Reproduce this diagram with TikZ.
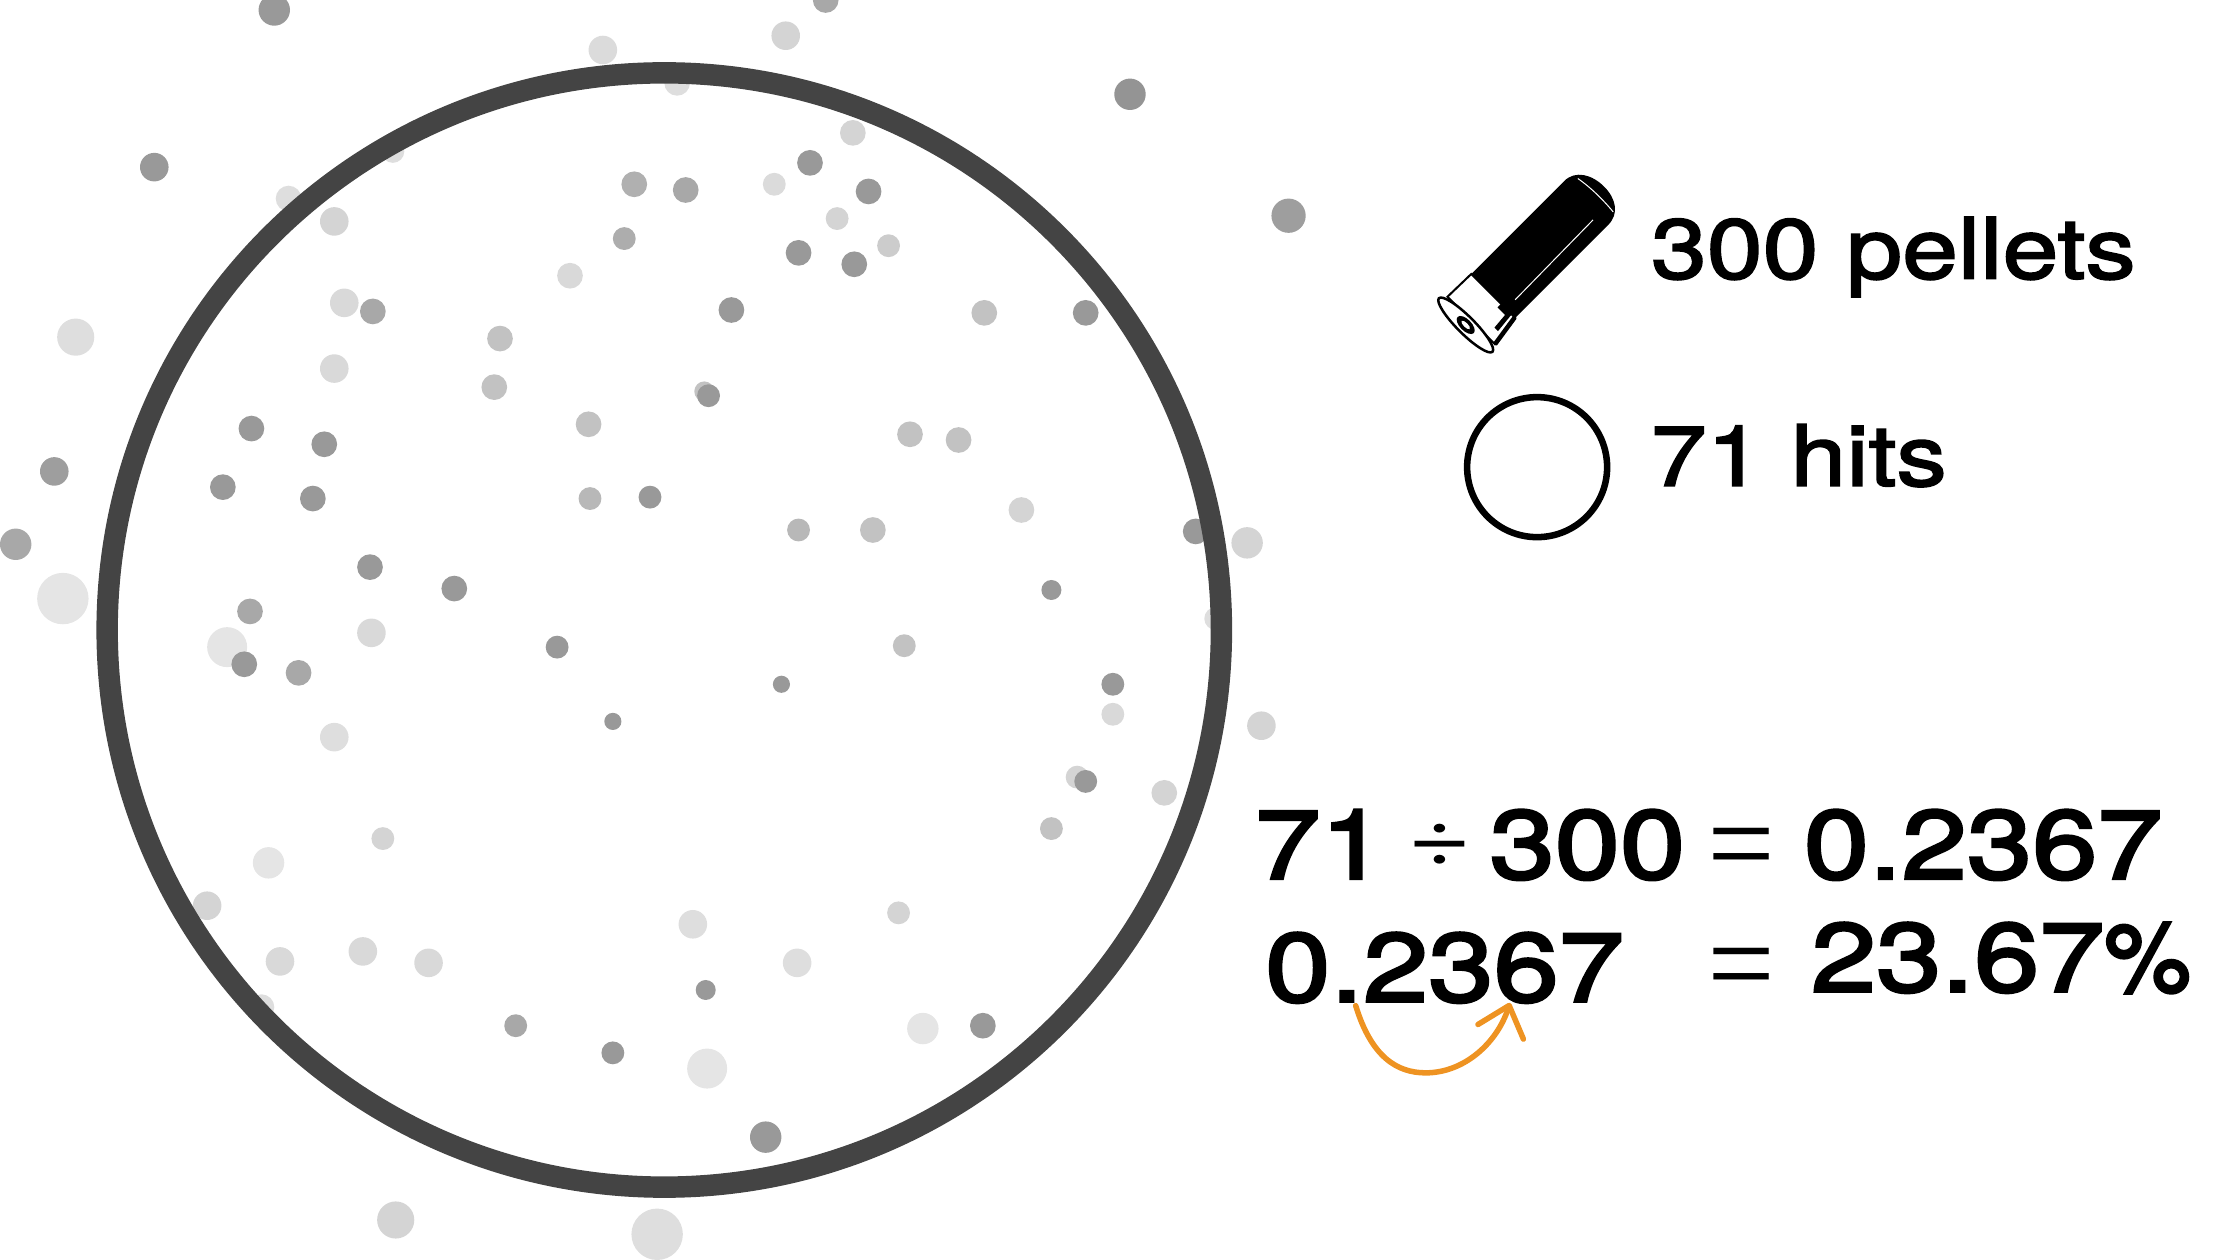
\documentclass[tikz,border=0pt]{standalone}
\usepackage{fontspec}
\usetikzlibrary{arrows.meta}
\setmainfont{TeX Gyre Heros}
\newfontfamily\labelfont[FakeStretch=1.19,FakeBold=2.2]{TeX Gyre Heros}
\newfontfamily\calcfont[FakeStretch=1.21,FakeBold=3]{TeX Gyre Heros}
\newfontfamily\pctfont[FakeStretch=1.0,FakeBold=3]{TeX Gyre Heros}
\newfontfamily\signfont[FakeStretch=0.55]{DejaVu Sans ExtraLight}
\newfontfamily\divfont[FakeStretch=1.3]{TeX Gyre Heros}
\definecolor{ringgray}{HTML}{444444}
\definecolor{hoporange}{HTML}{EE9322}
\tikzset{
    labeltext/.style={anchor=base west,inner sep=0pt,font=\labelfont\fontsize{16.8}{20}\selectfont},
    calctext/.style={anchor=base west,inner sep=0pt,font=\calcfont\fontsize{19.3}{23}\selectfont},
    signtext/.style={anchor=base,inner sep=0pt,text height=14pt,text depth=0pt,font=\signfont\fontsize{32}{36}\selectfont},
    divtext/.style={anchor=base,inner sep=0pt,font=\divfont\fontsize{17}{20}\selectfont},
}
\begin{document}
\begin{tikzpicture}[x=0.01cm,y=-0.01cm]
    \useasboundingbox(0,0)rectangle(1568,882);
    \clip(0,0)rectangle(1568,882);
    \foreach \px/\py/\pr/\pg in {
        192/7/11/40,422/35/10/14,550/25/10/17,578/0/9/34,791/66/11/42,108/117/10/40,
        202/139/9/13,275/106/8/13,474/58/9/13,902/151/12/38,53/236/13/13,38/330/10/38,
        11/381/11/34,44/419/18/10,873/380/11/17,883/508/10/17,837/372/9/40,851/433/8/13,
        815/555/9/17,145/634/10/17,183/705/9/13,536/796/11/40,277/854/13/17,460/864/18/13,
        597/93/9/17,567/114/9/40,542/129/8/14,444/129/9/31,480/133/9/34,608/134/9/40,
        234/155/10/17,586/153/8/17,622/172/8/20,437/167/8/32,559/177/9/40,598/185/9/40,
        399/193/9/15,241/212/10/15,261/218/9/34,512/217/9/40,689/219/9/24,760/219/9/40,
        350/237/9/24,234/258/10/15,346/271/9/24,493/274/7/24,496/277/8/40,176/300/9/40,
        227/311/9/40,412/297/9/24,637/304/9/24,671/308/9/24,156/341/9/40,219/349/9/40,
        413/349/8/28,455/348/8/40,715/357/9/17,559/371/8/28,611/371/9/24,259/397/9/40,
        318/412/9/40,736/413/7/40,175/428/9/34,260/443/10/15,159/453/14/10,171/465/9/40,
        209/471/9/34,390/453/8/40,633/452/8/24,547/479/6/40,429/505/6/40,779/479/8/40,
        779/500/8/15,234/516/10/13,754/544/8/17,760/547/8/40,736/580/8/24,268/587/8/17,
        188/604/11/10,629/639/8/17,485/647/10/13,196/673/10/15,254/666/10/15,300/674/10/15,
        558/674/10/13,494/693/7/40,361/718/8/34,429/737/8/40,646/720/11/10,688/718/9/40,
        495/748/14/10}
        \fill[black!\pg](\px,\py)circle(\pr);
    \coordinate(ringcenter)at(465,441);
    \draw[ringgray,line width=1.5mm](ringcenter)circle(390);
    \begin{scope}[shift={(1026,227.5)},rotate=45]
        \fill(28,-22.5)--(120,-22.5)..controls(131,-22.5)and(137,-12)..(137,0)
            ..controls(137,12)and(131,21)..(120,21)--(28,21)--cycle;
        \draw[white,line width=0.2pt](128,-17)..controls(130,-6)and(130,6)..(129,17);
        \draw[white,line width=0.2pt](37,12)--(115,11);
        \draw[fill=white,line width=0.4pt](5,-23)--(28,-22.5)--(28,21)--(5,24)--cycle;
        \fill(28,7)--(28,17.5)--(13,19)--(13,15.5)--(24.5,14.5)--(24.5,7)--cycle;
        \draw[line width=0.9pt](28,20.5)--(5,24);
        \draw[fill=white,line width=0.5pt](0,0)ellipse(6 and 26.5);
        \fill(0,0)ellipse(4 and 8);
        \fill[white](0,0)ellipse(1.5 and 4);
    \end{scope}
    \coordinate(hitcenter)at(1076,327);
    \draw[line width=1.3pt](hitcenter)circle(49);
    \node[labeltext](pellets)at(1155,195){300 pellets};
    \node[labeltext](hits)at(1155,340){71 hits};
    \node[calctext](seventyone)at(878,615){71};
    \node[divtext](divide)at(1008,606){÷};
    \node[calctext](threehundred)at(1042,615){300};
    \node[signtext](equalone)at(1219,626){=};
    \node[calctext](ratio)at(1262,615){0.2367};
    \node[calctext](shifted)at(885,701){0.2367};
    \node[signtext](equaltwo)at(1219,710){=};
    \node[calctext](percent)at(1267,694){23.67{\pctfont\%}};
    \coordinate(hopstart)at(949,704);
    \coordinate(hopend)at(1057,702);
    \draw[hoporange,line width=1.1pt,line cap=round,-{Straight Barb[length=5.5pt,width=9.5pt,round]}]
        (hopstart)..controls(960,740)and(978,751)..(998,751)..controls(1025,751)and(1048,730)..(hopend);
\end{tikzpicture}
\end{document}
